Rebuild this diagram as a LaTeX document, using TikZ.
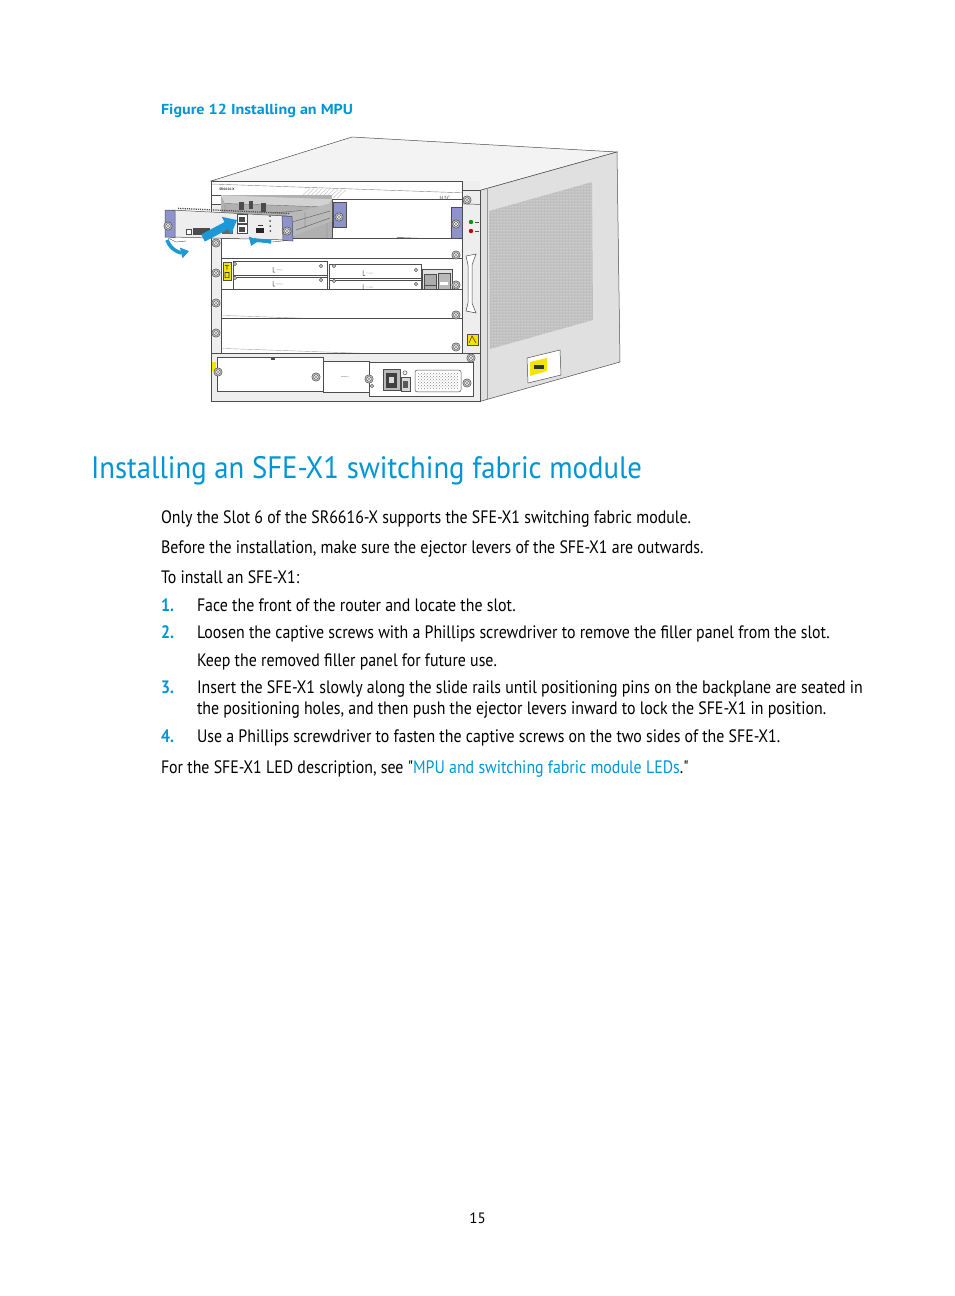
\documentclass[tikz,border=0pt]{standalone}
\usepackage{fontspec}
\setmainfont{PT Sans}
\newfontfamily\qfont{PT Sans}
\usepackage{graphicx}
\usetikzlibrary{patterns,arrows.meta}
\definecolor{hpblue}{HTML}{0096D6}
\definecolor{arrowblue}{HTML}{1C98D6}
\definecolor{purp}{HTML}{8F93CC}
\definecolor{lineg}{HTML}{4D4D4D}
\definecolor{faceg}{HTML}{EEEEEE}
\definecolor{sideg}{HTML}{E0E0E0}
\definecolor{topg}{HTML}{F3F3F3}
\definecolor{slotdark}{HTML}{B0B0B0}
\definecolor{slotmid}{HTML}{D2D2D2}
\definecolor{yel}{HTML}{F4E400}
\newsavebox\fitbox
\newcommand\fitfactor[3]{\sbox\fitbox{\normalfont #3}\pgfmathsetmacro#1{#2/\the\wd\fitbox}}
\newcommand\bodyfont{\fontsize{18}{21}\selectfont}
\newcommand\headfont{\fontsize{31}{36}\selectfont}
\newcommand\capfont{\fontsize{14.5}{17}\selectfont\bfseries}
\newcommand\bodyline[1]{\scalebox{\bodyk}[1]{\bodyfont #1}}
\newcommand\sq{{\qfont"}}
\tikzset{
  outl/.style={draw=lineg, line width=0.5pt},
  txt/.style={anchor=base west, inner sep=0pt, outer sep=0pt},
  scr/.pic={\fill[gray!55, draw=lineg, line width=0.45pt] (0,0) circle (4.2);
            \draw[lineg, line width=0.4pt, fill=white] (0,0) circle (2.3);
            \fill[lineg] (0,0) circle (0.9);},
  sscr/.pic={\draw[lineg, line width=0.35pt, fill=gray!25] (0,0) circle (1.8);
             \fill[lineg] (0,0) circle (0.7);},
  bluearrow/.style={arrowblue, line width=3.6pt, -{Triangle[length=8pt,width=10.5pt]}}
}
\begin{document}
\fitfactor{\bodyk}{530}{\bodyfont Only the Slot 6 of the SR6616-X supports the SFE-X1 switching fabric module.}%
\fitfactor{\headk}{551}{\headfont Installing an SFE-X1 switching fabric module}%
\fitfactor{\capk}{192}{\capfont Figure 12 Installing an MPU}%
\begin{tikzpicture}[x=1pt,y=-1pt]
\useasboundingbox (0,0) rectangle (954,1296);
\fill[white] (0,0) rectangle (954,1296);

% ---------------- chassis: top and side ----------------
\draw[outl, fill=topg] (211,181) -- (352,137) -- (617,152) -- (480,190.4) -- cycle;
\draw[lineg!50, line width=0.4pt] (213,184) -- (480,193.4);
\draw[outl, fill=sideg] (480,190.4) -- (617,152) -- (620,362) -- (480,401.4) -- cycle;
\draw[lineg!60, line width=0.4pt] (487,188.4) -- (487,399.4);
\fill[gray!50] (489,211) -- (592,182) -- (593,320) -- (490,349) -- cycle;
\fill[pattern=dots, pattern color=white] (489,211) -- (592,182) -- (593,320) -- (490,349) -- cycle;
% side bracket and label
\draw[outl, fill=white] (527,358) -- (560,350) -- (561,375) -- (528,383) -- cycle;
\fill[yel] (530,362) -- (547,358) -- (547,371) -- (530,376) -- cycle;
\fill[black!80] (534,365) rectangle (544,369);

% ---------------- front face (slight perspective) ----------------
\begin{scope}[shift={(211,181)}, x={(1pt,-0.035pt)}, y={(0pt,-1pt)}]
  \fill[faceg] (0,0) rectangle (269,211);
  % header band
  \draw[outl, fill=white] (0,0) rectangle (251,14);
  \draw[lineg!70, line width=0.4pt] (0,3) -- (251,3);
  \foreach \u in {90,94,...,126} \draw[gray!45, line width=0.5pt] (\u,13) -- (\u+9,4);
  \node[inner sep=0pt, font=\fontsize{3.5}{4}\selectfont\bfseries, text=black!80] (hdrtxt) at (16,8) {SR6616-X};
  \node[inner sep=0pt, font=\fontsize{6}{7}\selectfont\bfseries, text=gray!80] (logo) at (234,9) {H3C};
  % left and right frame strips
  \draw[outl] (0,14) rectangle (10,172);
  \draw[outl] (251,0) rectangle (269,172);
  \draw[outl] (251,14) -- (269,14);
  % slot A, left half open
  \fill[slotdark] (10,14) rectangle (121,57);
  \fill[slotmid] (10,14) -- (121,14) -- (116,22) -- (14,22) -- cycle;
  \draw[black!55, line width=0.4pt] (14,22) -- (116,22) (14,22) -- (14,57) (116,22) -- (116,57);
  \fill[black!70] (28,20) rectangle (33,28);
  \fill[black!70] (38,19) rectangle (42,27);
  \fill[black!70] (50,20) rectangle (55,29);
  \draw[black!60, line width=0.4pt] (60,30) -- (110,24) (70,40) -- (112,34) (90,26) -- (90,33);
  % slot A, right half with installed module
  \draw[outl, fill=white] (121,14) rectangle (251,57);
  \draw[outl, fill=purp] (122,17) rectangle (135,42);
  \draw[outl, fill=purp] (240,18) rectangle (251,50);
  \draw[lineg, line width=0.5pt] (186,50) -- (238,50) (186,53) -- (238,53);
  % slot B
  \draw[outl, fill=white] (10,57) rectangle (251,77);
  % interface card slot
  \draw[outl, fill=white] (10,77) rectangle (251,108);
  \draw[outl, fill=yel] (12,81) rectangle (20,99);
  \draw[black!80, line width=0.6pt] (14,84) -- (18,84) (16,84) -- (16,88) (14,91) rectangle (18,96);
  \draw[outl] (22,79) rectangle (116,92);
  \draw[outl] (22,93) rectangle (116,106);
  \draw[outl] (118,79) rectangle (210,92);
  \draw[outl] (118,93) rectangle (210,106);
  \foreach \u/\v in {62/84,62/98,152/84,152/98}{
    \draw[black!80, line width=0.5pt] (\u,\v) -- (\u,\v+5) -- (\u+2,\v+5);
    \draw[gray!70, line width=0.4pt] (\u+3,\v+2.5) -- (\u+10,\v+2.5);
  }
  \draw[outl, fill=gray!25] (211,81) rectangle (241,107);
  \draw[outl, fill=gray!65] (213,86) rectangle (225,96);
  \draw[outl, fill=gray!65] (213,97) rectangle (225,106);
  \draw[outl, fill=gray!55] (227,84) rectangle (239,105);
  \fill[white] (229,93) rectangle (237,96);
  % slots D and E
  \draw[outl, fill=white] (10,108) rectangle (251,137);
  \draw[lineg!50, line width=0.4pt] (12,134) -- (249,134);
  \draw[outl, fill=white] (10,137) rectangle (251,170);
  \draw[lineg!50, line width=0.4pt] (12,167) -- (249,167);
  % PSU band
  \draw[outl, fill=faceg] (0,172) rectangle (269,211);
  \draw[outl, fill=white] (6,176) rectangle (112,206);
  \draw[outl, fill=white] (112,176) rectangle (158,206);
  \draw[outl, fill=white] (158,176) rectangle (262,206);
  \fill[black!70] (60,174) rectangle (64,177);
  \draw[gray!70, line width=0.5pt] (130,191) -- (138,191);
  \fill[yel] (1,181) rectangle (5,190);
  \draw[outl, fill=gray!55] (172,182) rectangle (189,203);
  \fill[black!75] (175,186) rectangle (186,200);
  \fill[gray!30] (178,190) rectangle (183,196);
  \draw[outl, fill=gray!30] (190,190) rectangle (199,203);
  \fill[black!65] (192,193) rectangle (197,200);
  \draw[outl, fill=white] (194,185) circle (2);
  \draw[outl, fill=white, rounded corners=2] (204,182) rectangle (250,202);
  \fill[pattern=crosshatch dots, pattern color=gray!90] (207,185) rectangle (247,199);
\end{scope}

% right LED strip details
\fill[green!60!black] (471,222) circle (2.2);
\fill[red!80!black] (471,231) circle (2.2);
\draw[lineg, line width=0.3pt] (475,222) -- (479,222) (475,231) -- (479,231);
\draw[outl, fill=white] (466,256) -- (476,254) -- (472,265) -- (472,303) -- (476,313) -- (466,311) -- (468,303) -- (468,265) -- cycle;
\draw[outl, fill=yel] (467,334) rectangle (478,345);
\draw[black!85, line width=0.5pt] (469,343) -- (472,336) -- (476,343);

% screws on the chassis
\foreach \x/\y in {216/243,216/273,216/303,216/333,218/372,
                   456/224,456/255,456/285,456/315,456/347,
                   467/200,471/358,339/217,316/377,369/379,467/383}
  \pic at (\x,\y) {scr};
\foreach \x/\y in {235/264,235/278,321/266,321/280,334/266,334/281,416/270,416/284,372/386}
  \pic at (\x,\y) {sscr};

% ---------------- MPU card being inserted ----------------
\fill[gray!55] (288,214) -- (332,203) -- (332,221) -- (291,237) -- cycle;
\draw[black!65, line width=0.4pt] (292,222) -- (330,211) (296,230) -- (330,218) (305,212) -- (305,228);
\draw[outl, fill=faceg] (172,210) -- (286,216) -- (288,240) -- (172,237) -- cycle;
\draw[lineg, line width=1.3pt, dash pattern=on 1.2pt off 1pt] (178,208.3) -- (290,213.5);
\draw[outl, fill=purp] (165,210) -- (175,210.5) -- (175,237.5) -- (165,237) -- cycle;
\draw[outl, fill=purp] (282,216) -- (292,216.5) -- (293,241) -- (283,240.5) -- cycle;
\draw[outl, fill=white] (186,229) rectangle (191,234);
\fill[black!70] (193,228) rectangle (210,235);
\fill[black!60] (222,226) rectangle (233,234);
\draw[outl, fill=white] (237,214) rectangle (247,223);
\fill[black!70] (239,217) rectangle (245,222);
\draw[outl, fill=white] (237,224) rectangle (247,233);
\fill[black!70] (239,227) rectangle (245,232);
\fill[black!85] (256,228) rectangle (264,233);
\draw[black!80, line width=0.6pt] (258,225) -- (263,225);
\foreach \y in {216,221,226,231} \fill[black!70] (270+\y/40-5.4,\y) circle (1);
\draw[lineg, line width=0.4pt] (168,238) -- (176,242) -- (186,241);
\draw[lineg, line width=0.4pt] (262,243) -- (287,240.5);
\pic at (168,226) {scr};
\pic at (287,231) {scr};

% ---------------- blue arrows ----------------
\draw[arrowblue, line width=8pt, -{Triangle[length=12pt,width=19pt]}] (203,238) -- (237,220);
\draw[bluearrow] (167,240) .. controls (171,251) and (181,253) .. (189,251);
\draw[bluearrow] (271,242) .. controls (263,240) and (253,241) .. (251,246);

% ---------------- text ----------------
\node[txt] (cap) at (161,114) {\scalebox{\capk}[1]{\capfont\color{hpblue}Figure 12 Installing an MPU}};
\node[txt] (head) at (91,478) {\scalebox{\headk}[1]{\headfont\color{hpblue}Installing an SFE-X1 switching fabric module}};
\node[txt] (p1) at (161,523) {\bodyline{Only the Slot 6 of the SR6616-X supports the SFE-X1 switching fabric module.}};
\node[txt] (p2) at (161,553) {\bodyline{Before the installation, make sure the ejector levers of the SFE-X1 are outwards.}};
\node[txt] (p3) at (161,583) {\bodyline{To install an SFE-X1:}};
\node[txt] (n1) at (161,611) {\bodyline{\color{hpblue}\bfseries 1.}};
\node[txt] (s1) at (197,611) {\bodyline{Face the front of the router and locate the slot.}};
\node[txt] (n2) at (161,638) {\bodyline{\color{hpblue}\bfseries 2.}};
\node[txt] (s2) at (197,638) {\bodyline{Loosen the captive screws with a Phillips screwdriver to remove the filler panel from the slot.}};
\node[txt] (s2b) at (197,666) {\bodyline{Keep the removed filler panel for future use.}};
\node[txt] (n3) at (161,693) {\bodyline{\color{hpblue}\bfseries 3.}};
\node[txt] (s3) at (197,693) {\bodyline{Insert the SFE-X1 slowly along the slide rails until positioning pins on the backplane are seated in}};
\node[txt] (s3b) at (197,714) {\bodyline{the positioning holes, and then push the ejector levers inward to lock the SFE-X1 in position.}};
\node[txt] (n4) at (161,742) {\bodyline{\color{hpblue}\bfseries 4.}};
\node[txt] (s4) at (197,742) {\bodyline{Use a Phillips screwdriver to fasten the captive screws on the two sides of the SFE-X1.}};
\node[txt] (p4) at (161,773) {\bodyline{For the SFE-X1 LED description, see \sq\textcolor{hpblue}{MPU and switching fabric module LEDs}.\sq}};
\node[txt, anchor=base] (pg) at (477.5,1223) {\fontsize{15}{18}\selectfont 15};
\end{tikzpicture}
\end{document}
